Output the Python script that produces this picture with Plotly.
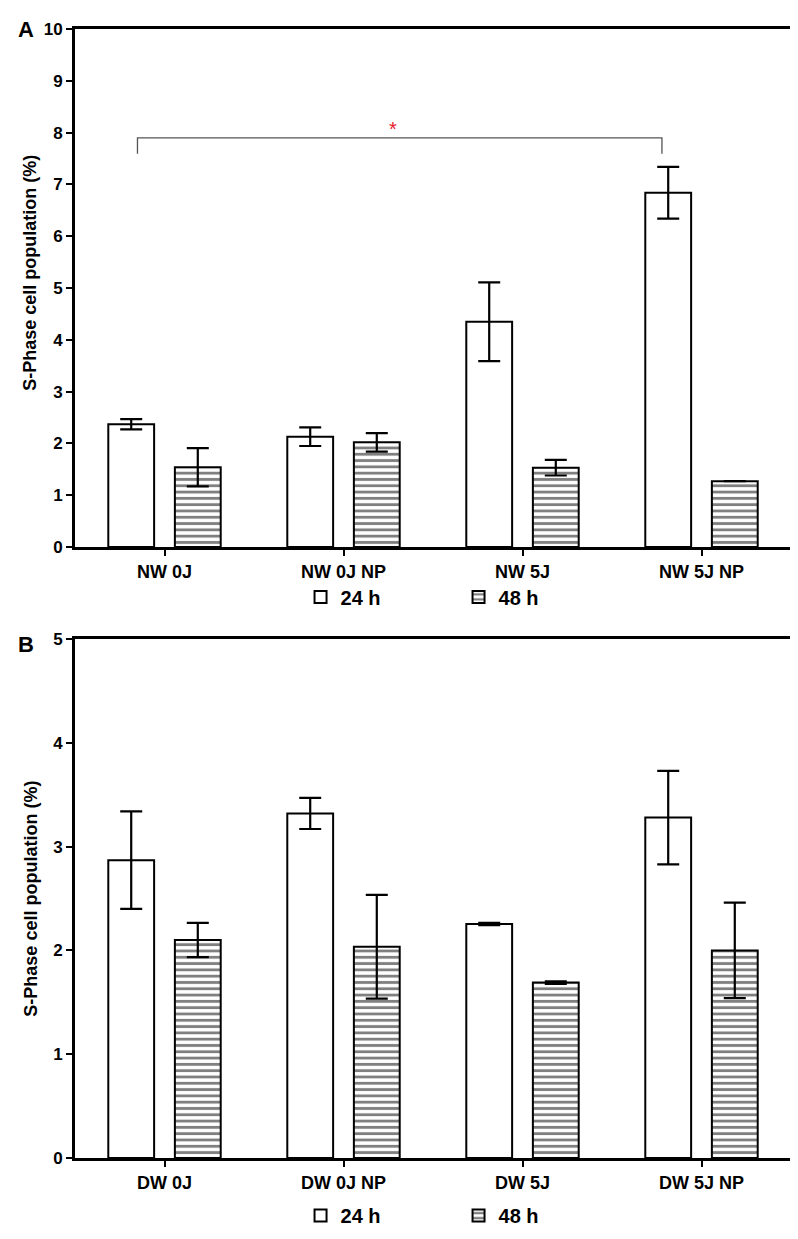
import plotly.graph_objects as go

# ---------------- data ----------------
cats_a = ["NW 0J", "NW 0J NP", "NW 5J", "NW 5J NP"]
a_24h = [2.37, 2.13, 4.35, 6.84]
a_24h_err = [0.10, 0.18, 0.76, 0.50]
a_48h = [1.54, 2.02, 1.53, 1.27]
a_48h_err = [0.37, 0.18, 0.15, 0.0]

cats_b = ["DW 0J", "DW 0J NP", "DW 5J", "DW 5J NP"]
b_24h = [2.87, 3.32, 2.255, 3.28]
b_24h_err = [0.47, 0.15, 0.012, 0.45]
b_48h = [2.10, 2.035, 1.69, 2.00]
b_48h_err = [0.165, 0.50, 0.012, 0.46]

series_names = ["24 h", "48 h"]
y_title = "S-Phase cell population (%)"
a_ticks = list(range(0, 11))
b_ticks = list(range(0, 6))

# significance bracket (panel A): between group 0 and group 3, 24 h bars
sig_groups = (0, 3)
sig_level = 7.9
sig_drop = 7.59
sig_text = "*"

# ---------------- styling ----------------
FONT = "Liberation Sans, Arial, sans-serif"
BAR_W = 0.256
OFF_24 = -0.314
OFF_48 = 0.058
LINE = dict(color="black", width=2)
HATCH = dict(shape="-", size=6.3, solidity=0.45, fgcolor="#000000", bgcolor="white", fillmode="overlay")

W, H = 798, 1239
ML, MR, MT, MB = 67, 13, 19, 80
PW, PH = W - ML - MR, H - MT - MB

fig = go.Figure()


def add_pair(cats, v24, e24, v48, e48, xa, ya, legend):
    fig.add_trace(go.Bar(
        x=cats, y=v24, name=series_names[0], xaxis=xa, yaxis=ya, legend=legend,
        width=BAR_W, offset=OFF_24,
        marker=dict(color="white", line=LINE),
        error_y=dict(type="data", array=e24, visible=True, color="black", thickness=2.2, width=11),
    ))
    fig.add_trace(go.Bar(
        x=cats, y=v48, name=series_names[1], xaxis=xa, yaxis=ya, legend=legend,
        width=BAR_W, offset=OFF_48,
        marker=dict(color="white", line=LINE, pattern=HATCH),
        error_y=dict(type="data", array=e48, visible=True, color="black", thickness=2.2, width=11),
    ))


add_pair(cats_a, a_24h, a_24h_err, a_48h, a_48h_err, "x", "y", "legend")
add_pair(cats_b, b_24h, b_24h_err, b_48h, b_48h_err, "x2", "y2", "legend2")

axis_common = dict(
    showline=True, linewidth=3, linecolor="black", mirror=True,
    ticks="outside", ticklen=6, tickwidth=2, tickcolor="black",
    showgrid=False, zeroline=False,
)
xtickfont = dict(family=FONT, size=18, color="black", weight="bold")
ytickfont = dict(family=FONT, size=17, color="black", weight="bold")
legfont = dict(family=FONT, size=20, color="black", weight="bold")

fig.update_layout(
    width=W, height=H,
    margin=dict(l=ML, r=MR, t=MT, b=MB),
    paper_bgcolor="white", plot_bgcolor="white",
    barmode="overlay",
    showlegend=True,
    xaxis=dict(domain=[0, 1], anchor="y", range=[-0.5, 3.5], tickfont=xtickfont, **axis_common),
    yaxis=dict(domain=[0.5412, 1.0], anchor="x", range=[0, 10], tickvals=a_ticks,
               tickfont=ytickfont, **axis_common),
    xaxis2=dict(domain=[0, 1], anchor="y2", range=[-0.5, 3.5], tickfont=xtickfont, **axis_common),
    yaxis2=dict(domain=[0.0, 0.4596], anchor="x2", range=[0, 5], tickvals=b_ticks,
                tickfont=ytickfont, **axis_common),
    legend=dict(orientation="h", x=0.315, y=0.497, xanchor="left", yanchor="middle",
                entrywidth=113, entrywidthmode="pixels", itemwidth=30,
                font=legfont, bgcolor="rgba(0,0,0,0)"),
    legend2=dict(orientation="h", x=0.315, y=-0.051, xanchor="left", yanchor="middle",
                 entrywidth=113, entrywidthmode="pixels", itemwidth=30,
                 font=legfont, bgcolor="rgba(0,0,0,0)"),
)

# significance bracket from data positions
bar_center_24 = OFF_24 + BAR_W / 2
inset = 0.035
xl = sig_groups[0] + bar_center_24 + inset
xr = sig_groups[1] + bar_center_24 - inset
fig.add_shape(type="path", xref="x", yref="y",
              path=f"M {xl},{sig_drop} L {xl},{sig_level} L {xr},{sig_level} L {xr},{sig_drop}",
              line=dict(color="#555555", width=1.3))
fig.add_annotation(x=(xl + xr) / 2 - 0.04, y=sig_level, xref="x", yref="y", text=sig_text,
                   showarrow=False, yanchor="bottom", yshift=-4,
                   font=dict(family=FONT, size=20, color="#e8202a"))


def px_x(p):
    return (p - ML) / PW


def px_y(p):
    return (H - MB - p) / PH


# y-axis titles (rotated text) and panel letters
for ycenter in (265, 897):
    fig.add_annotation(x=px_x(22), y=px_y(ycenter), xref="paper", yref="paper",
                       text=y_title, textangle=-90, showarrow=False,
                       xanchor="center", yanchor="middle",
                       font=dict(family=FONT, size=18, color="black", weight="bold"))

for letter, ypix in (("A", 20), ("B", 640)):
    fig.add_annotation(x=px_x(18), y=px_y(ypix), xref="paper", yref="paper",
                       text=letter, showarrow=False, xanchor="center", yanchor="middle",
                       font=dict(family=FONT, size=22, color="black", weight="bold"))

fig.write_html("out.html")
